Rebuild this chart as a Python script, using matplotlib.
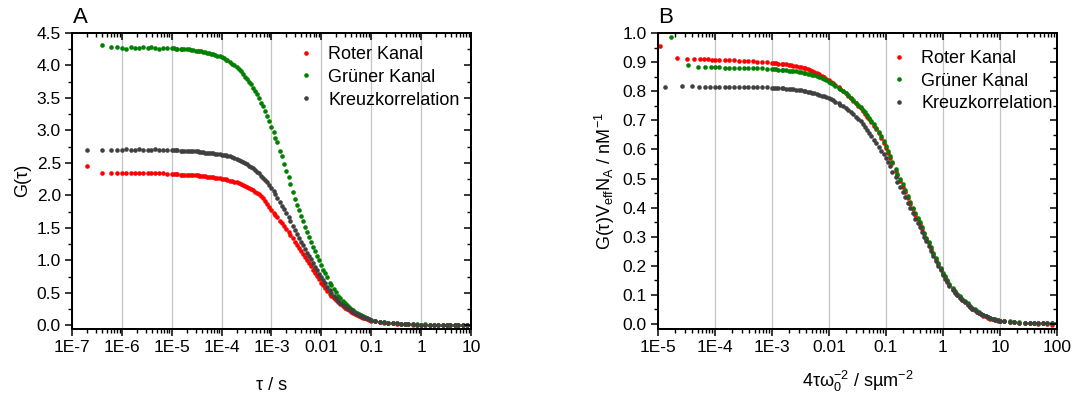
import matplotlib
matplotlib.use("Agg")
import matplotlib.pyplot as plt
from matplotlib.ticker import LogLocator, MultipleLocator, NullFormatter, FormatStrFormatter

plt.rcParams['font.family'] = ['Liberation Sans', 'DejaVu Sans']
plt.rcParams['mathtext.fontset'] = 'custom'
plt.rcParams['mathtext.rm'] = 'Liberation Sans'
plt.rcParams['mathtext.it'] = 'Liberation Sans:italic'
plt.rcParams['mathtext.default'] = 'regular'

RED = '#ff0000'
GREEN = '#008000'
GREY = '#404040'
LABELS = ['Roter Kanal', 'Grüner Kanal', 'Kreuzkorrelation']

# ---------------- panel A: G(tau) vs lag time tau / s ----------------
tau_a = [2e-7, 4e-7, 6e-7, 8e-7,
         1.0e-6, 1.2e-6, 1.5e-6, 1.8e-6, 2.2e-6, 2.7e-6, 3.3e-6, 3.9e-6, 4.7e-6, 5.6e-6, 6.8e-6, 8.2e-6,
         1.0e-5, 1.1e-5, 1.2e-5, 1.3e-5, 1.5e-5, 1.6e-5, 1.8e-5, 2.0e-5, 2.2e-5, 2.4e-5, 2.7e-5, 3.0e-5,
         3.3e-5, 3.6e-5, 3.9e-5, 4.3e-5, 4.7e-5, 5.1e-5, 5.6e-5, 6.2e-5, 6.8e-5, 7.5e-5, 8.2e-5, 9.1e-5,
         1.0e-4, 1.1e-4, 1.2e-4, 1.3e-4, 1.5e-4, 1.6e-4, 1.8e-4, 2.0e-4, 2.2e-4, 2.4e-4, 2.7e-4, 3.0e-4,
         3.3e-4, 3.6e-4, 3.9e-4, 4.3e-4, 4.7e-4, 5.1e-4, 5.6e-4, 6.2e-4, 6.8e-4, 7.5e-4, 8.2e-4, 9.1e-4,
         1.0e-3, 1.1e-3, 1.2e-3, 1.3e-3, 1.5e-3, 1.6e-3, 1.8e-3, 2.0e-3, 2.2e-3, 2.4e-3, 2.7e-3, 3.0e-3,
         3.3e-3, 3.6e-3, 3.9e-3, 4.3e-3, 4.7e-3, 5.1e-3, 5.6e-3, 6.2e-3, 6.8e-3, 7.5e-3, 8.2e-3, 9.1e-3,
         0.010, 0.011, 0.012, 0.013, 0.015, 0.016, 0.018, 0.020, 0.022, 0.024, 0.027, 0.030,
         0.033, 0.036, 0.039, 0.043, 0.047, 0.051, 0.056, 0.062, 0.068, 0.075, 0.082, 0.091,
         0.10, 0.12, 0.15, 0.18, 0.22, 0.27, 0.33, 0.39, 0.47, 0.56, 0.68, 0.82,
         1.0, 1.2, 1.5, 1.8, 2.2, 2.7, 3.3, 3.9, 4.7, 5.6, 6.8, 8.2,
         10.0]

g_red = [2.45, 2.35, 2.35, 2.34,
         2.35, 2.34, 2.35, 2.34, 2.35, 2.34, 2.34, 2.35, 2.34, 2.34, 2.34, 2.33,
         2.33, 2.33, 2.33, 2.33, 2.32, 2.32, 2.32, 2.32, 2.32, 2.31, 2.31, 2.31,
         2.31, 2.30, 2.30, 2.30, 2.30, 2.29, 2.29, 2.28, 2.28, 2.27, 2.27, 2.265,
         2.26, 2.255, 2.25, 2.24, 2.23, 2.22, 2.21, 2.20, 2.19, 2.175, 2.16, 2.145,
         2.13, 2.115, 2.10, 2.08, 2.06, 2.04, 2.02, 1.99, 1.96, 1.92, 1.87, 1.82,
         1.77, 1.735, 1.70, 1.665, 1.61, 1.57, 1.53, 1.485, 1.44, 1.39, 1.34, 1.29,
         1.24, 1.195, 1.15, 1.105, 1.06, 1.01, 0.96, 0.91, 0.86, 0.81, 0.76, 0.71,
         0.66, 0.62, 0.58, 0.535, 0.49, 0.455, 0.42, 0.39, 0.36, 0.33, 0.30, 0.275,
         0.25, 0.23, 0.21, 0.195, 0.18, 0.165, 0.15, 0.135, 0.12, 0.107, 0.095, 0.085,
         0.075, 0.062, 0.050, 0.042, 0.035, 0.030, 0.025, 0.021, 0.018, 0.015, 0.013, 0.011,
         0.008, 0.012, 0.010, 0.006, 0.011, 0.012, 0.008, 0.010, 0.006, 0.010, 0.012, 0.008,
         0.010]

# green channel has no visible point at the first lag time
g_green = [4.31, 4.28, 4.28,
           4.27, 4.26, 4.28, 4.27, 4.27, 4.28, 4.27, 4.28, 4.27, 4.26, 4.27, 4.27,
           4.27, 4.27, 4.26, 4.26, 4.26, 4.25, 4.25, 4.25, 4.25, 4.24, 4.24, 4.23,
           4.23, 4.22, 4.22, 4.21, 4.20, 4.19, 4.19, 4.18, 4.17, 4.16, 4.15, 4.14,
           4.13, 4.11, 4.09, 4.08, 4.05, 4.03, 4.00, 3.97, 3.94, 3.91, 3.87, 3.83,
           3.79, 3.75, 3.71, 3.66, 3.61, 3.56, 3.50, 3.43, 3.37, 3.30, 3.23, 3.14,
           3.05, 2.97, 2.89, 2.82, 2.68, 2.61, 2.49, 2.38, 2.28, 2.18, 2.06, 1.95,
           1.86, 1.77, 1.69, 1.60, 1.51, 1.44, 1.36, 1.29, 1.21, 1.14, 1.07, 1.00,
           0.93, 0.86, 0.80, 0.75, 0.66, 0.62, 0.56, 0.51, 0.46, 0.42, 0.38, 0.34,
           0.31, 0.28, 0.26, 0.23, 0.21, 0.19, 0.17, 0.155, 0.14, 0.125, 0.11, 0.10,
           0.090, 0.075, 0.060, 0.050, 0.040, 0.035, 0.030, 0.025, 0.020, 0.020, 0.015, 0.015,
           0.010, 0.015, 0.010, 0.012, 0.012, 0.008, 0.010, 0.014, 0.010, 0.008, 0.012, 0.012,
           0.010]

g_cross = [2.70, 2.70, 2.70, 2.70,
           2.70, 2.71, 2.70, 2.70, 2.71, 2.70, 2.70, 2.70, 2.71, 2.70, 2.70, 2.70,
           2.70, 2.70, 2.70, 2.70, 2.69, 2.69, 2.69, 2.69, 2.69, 2.68, 2.68, 2.68,
           2.68, 2.67, 2.67, 2.67, 2.66, 2.66, 2.66, 2.65, 2.65, 2.64, 2.64, 2.635,
           2.63, 2.625, 2.62, 2.61, 2.60, 2.59, 2.58, 2.565, 2.55, 2.535, 2.52, 2.50,
           2.48, 2.46, 2.44, 2.415, 2.39, 2.365, 2.34, 2.305, 2.27, 2.235, 2.20, 2.155,
           2.11, 2.065, 2.02, 1.96, 1.90, 1.845, 1.79, 1.73, 1.67, 1.60, 1.53, 1.465,
           1.40, 1.345, 1.29, 1.23, 1.17, 1.12, 1.07, 1.015, 0.96, 0.905, 0.85, 0.795,
           0.74, 0.695, 0.65, 0.595, 0.54, 0.50, 0.46, 0.42, 0.38, 0.35, 0.32, 0.295,
           0.27, 0.25, 0.23, 0.21, 0.19, 0.175, 0.16, 0.145, 0.13, 0.12, 0.11, 0.10,
           0.090, 0.075, 0.060, 0.050, 0.040, 0.035, 0.030, 0.025, 0.020, 0.018, 0.015, 0.013,
           0.010, 0.012, 0.008, 0.010, 0.012, 0.010, 0.008, 0.011, 0.012, 0.009, 0.010, 0.012,
           0.010]

# ---------------- panel B: normalised curves vs 4 tau / w0^2 ----------------
xb_grid = [1.0e-4, 1.2e-4, 1.5e-4, 1.8e-4, 2.2e-4, 2.7e-4, 3.3e-4, 3.9e-4, 4.7e-4, 5.6e-4, 6.8e-4, 8.2e-4,
           1.0e-3, 1.1e-3, 1.2e-3, 1.3e-3, 1.5e-3, 1.6e-3, 1.8e-3, 2.0e-3, 2.2e-3, 2.4e-3, 2.7e-3, 3.0e-3,
           3.3e-3, 3.6e-3, 3.9e-3, 4.3e-3, 4.7e-3, 5.1e-3, 5.6e-3, 6.2e-3, 6.8e-3, 7.5e-3, 8.2e-3, 9.1e-3,
           0.010, 0.011, 0.012, 0.013, 0.015, 0.016, 0.018, 0.020, 0.022, 0.024, 0.027, 0.030,
           0.033, 0.036, 0.039, 0.043, 0.047, 0.051, 0.056, 0.062, 0.068, 0.075, 0.082, 0.091,
           0.10, 0.11, 0.12, 0.13, 0.15, 0.16, 0.18, 0.20, 0.22, 0.24, 0.27, 0.30,
           0.33, 0.36, 0.39, 0.43, 0.47, 0.51, 0.56, 0.62, 0.68, 0.75, 0.82, 0.91,
           1.0, 1.1, 1.2, 1.3, 1.5, 1.6, 1.8, 2.0, 2.2, 2.4, 2.7, 3.0,
           3.3, 3.6, 3.9, 4.3, 4.7, 5.1, 5.6, 6.2, 6.8, 7.5, 8.2, 9.1,
           10, 12, 15, 18, 22, 27, 33, 39, 47, 56, 68, 82,
           100]
xb_red_head = [1.1e-5, 2.2e-5, 3.3e-5, 4.4e-5, 5.5e-5, 6.6e-5, 7.7e-5, 8.8e-5]
xb_green_head = [1.7e-5, 3.4e-5, 5.1e-5, 6.8e-5, 8.5e-5]
xb_cross_head = [1.35e-5, 2.7e-5, 4.05e-5, 5.4e-5, 6.75e-5, 8.1e-5]

yb_red = [0.955, 0.915, 0.912, 0.910, 0.910, 0.909, 0.909, 0.908,
          0.908, 0.907, 0.907, 0.906, 0.906, 0.905, 0.905, 0.904, 0.903, 0.902, 0.901, 0.899,
          0.897, 0.8965, 0.896, 0.895, 0.894, 0.893, 0.892, 0.890, 0.889, 0.888, 0.886, 0.884,
          0.882, 0.880, 0.878, 0.875, 0.872, 0.869, 0.866, 0.862, 0.858, 0.853, 0.848, 0.843,
          0.838, 0.833, 0.828, 0.823, 0.813, 0.808, 0.800, 0.793, 0.785, 0.777, 0.767, 0.758,
          0.750, 0.741, 0.733, 0.723, 0.713, 0.704, 0.694, 0.682, 0.670, 0.655, 0.640, 0.622,
          0.605, 0.588, 0.570, 0.553, 0.526, 0.511, 0.492, 0.472, 0.453, 0.434, 0.414, 0.395,
          0.376, 0.360, 0.345, 0.328, 0.310, 0.293, 0.277, 0.259, 0.241, 0.223, 0.206, 0.189,
          0.172, 0.160, 0.148, 0.134, 0.120, 0.110, 0.100, 0.092, 0.084, 0.076, 0.068, 0.060,
          0.053, 0.047, 0.042, 0.037, 0.033, 0.029, 0.026, 0.022, 0.019, 0.016, 0.014, 0.012,
          0.011, 0.009, 0.007, 0.006, 0.004, 0.004, 0.003, 0.003, 0.001, 0.002, 0.000, -0.002,
          0.002]

yb_green = [0.985, 0.890, 0.884, 0.883, 0.882,
            0.882, 0.882, 0.881, 0.881, 0.880, 0.880, 0.880, 0.879, 0.879, 0.878, 0.878, 0.877,
            0.876, 0.8755, 0.875, 0.8745, 0.874, 0.873, 0.872, 0.871, 0.870, 0.869, 0.868, 0.866,
            0.865, 0.863, 0.862, 0.860, 0.858, 0.856, 0.854, 0.851, 0.848, 0.845, 0.841, 0.837,
            0.833, 0.829, 0.825, 0.819, 0.812, 0.806, 0.800, 0.793, 0.786, 0.778, 0.769, 0.760,
            0.752, 0.744, 0.736, 0.727, 0.717, 0.708, 0.698, 0.687, 0.675, 0.661, 0.646, 0.629,
            0.612, 0.595, 0.578, 0.556, 0.534, 0.517, 0.499, 0.480, 0.460, 0.440, 0.420, 0.400,
            0.381, 0.365, 0.350, 0.332, 0.314, 0.297, 0.281, 0.263, 0.245, 0.227, 0.210, 0.193,
            0.176, 0.164, 0.152, 0.138, 0.124, 0.114, 0.104, 0.095, 0.087, 0.079, 0.071, 0.063,
            0.056, 0.050, 0.045, 0.040, 0.035, 0.031, 0.028, 0.024, 0.021, 0.018, 0.016, 0.014,
            0.012, 0.010, 0.009, 0.007, 0.006, 0.005, 0.005, 0.004, 0.004, 0.003, 0.004, 0.003,
            0.003]

yb_cross = [0.815, 0.817, 0.817, 0.816, 0.816, 0.816,
            0.816, 0.816, 0.816, 0.816, 0.815, 0.815, 0.815, 0.815, 0.814, 0.814, 0.813, 0.813,
            0.812, 0.8115, 0.811, 0.8105, 0.810, 0.8095, 0.809, 0.808, 0.807, 0.806, 0.805, 0.804,
            0.803, 0.8015, 0.800, 0.7985, 0.797, 0.795, 0.793, 0.7905, 0.788, 0.785, 0.782, 0.779,
            0.776, 0.773, 0.769, 0.764, 0.759, 0.754, 0.749, 0.742, 0.736, 0.728, 0.721, 0.713,
            0.705, 0.696, 0.688, 0.677, 0.667, 0.656, 0.646, 0.633, 0.621, 0.608, 0.596, 0.584,
            0.572, 0.557, 0.543, 0.524, 0.505, 0.488, 0.472, 0.453, 0.435, 0.416, 0.398, 0.380,
            0.362, 0.347, 0.333, 0.316, 0.300, 0.284, 0.268, 0.251, 0.234, 0.217, 0.201, 0.184,
            0.168, 0.156, 0.145, 0.131, 0.118, 0.108, 0.099, 0.091, 0.083, 0.075, 0.067, 0.060,
            0.053, 0.048, 0.043, 0.038, 0.034, 0.030, 0.027, 0.023, 0.020, 0.017, 0.015, 0.013,
            0.011, 0.009, 0.008, 0.006, 0.005, 0.004, 0.004, 0.003, 0.003, 0.002, 0.003, 0.002,
            0.003]

xticks_a = [1e-7, 1e-6, 1e-5, 1e-4, 1e-3, 1e-2, 1e-1, 1, 10]
xlabels_a = ['1E-7', '1E-6', '1E-5', '1E-4', '1E-3', '0.01', '0.1', '1', '10']
xticks_b = [1e-5, 1e-4, 1e-3, 1e-2, 1e-1, 1, 10, 100]
xlabels_b = ['1E-5', '1E-4', '1E-3', '0.01', '0.1', '1', '10', '100']


def style_axes(ax, xlim, ylim, xticks, xlabels, ymajor, yminor):
    ax.set_xscale('log')
    ax.set_xlim(*xlim)
    ax.set_ylim(*ylim)
    ax.set_xticks(xticks, labels=xlabels)
    ax.xaxis.set_minor_locator(LogLocator(base=10, subs=range(2, 10), numticks=30))
    ax.xaxis.set_minor_formatter(NullFormatter())
    ax.yaxis.set_major_locator(MultipleLocator(ymajor))
    ax.yaxis.set_minor_locator(MultipleLocator(yminor))
    ax.yaxis.set_major_formatter(FormatStrFormatter('%.1f'))
    ax.tick_params(which='major', direction='out', length=5, width=1.1, labelsize=12.5, pad=3)
    ax.tick_params(which='minor', direction='out', length=3, width=1.0)
    ax.grid(axis='x', which='major', color='#c4c4c4', lw=0.9)
    for sp in ax.spines.values():
        sp.set_linewidth(1.3)

    # top and right axes get inward ticks without labels
    axt = ax.twiny()
    axt.set_xscale('log')
    axt.set_xlim(*xlim)
    axt.set_xticks(xticks)
    axt.xaxis.set_minor_locator(LogLocator(base=10, subs=range(2, 10), numticks=30))
    axt.tick_params(which='major', direction='in', length=5, width=1.1, labeltop=False)
    axt.tick_params(which='minor', direction='in', length=3, width=1.0, labeltop=False)
    axr = ax.twinx()
    axr.set_ylim(*ylim)
    axr.yaxis.set_major_locator(MultipleLocator(ymajor))
    axr.yaxis.set_minor_locator(MultipleLocator(yminor))
    axr.tick_params(which='major', direction='in', length=5, width=1.1, labelright=False)
    axr.tick_params(which='minor', direction='in', length=3, width=1.0, labelright=False)
    for a in (axt, axr):
        for sp in a.spines.values():
            sp.set_linewidth(1.3)


def add_legend(ax, x0, y0):
    ax.legend(loc='upper left', bbox_to_anchor=(x0, y0), frameon=False, fontsize=13,
              handlelength=1.0, handletextpad=0.72, labelspacing=0.32,
              borderpad=0, borderaxespad=0, numpoints=1)


if __name__ == "__main__":
    fig = plt.figure(figsize=(10.78, 3.96), dpi=100)

    ax_a = fig.add_axes([0.0668, 0.170, 0.370, 0.7467])
    dot = dict(ls='none', marker='o', ms=3.3, mec='none')
    ax_a.plot(tau_a, g_red, color=RED, label=LABELS[0], **dot)
    ax_a.plot(tau_a[1:], g_green, color=GREEN, label=LABELS[1], **dot)
    ax_a.plot(tau_a, g_cross, color=GREY, label=LABELS[2], **dot)
    ax_a.set_xlabel('τ / s', fontsize=13, labelpad=16)
    ax_a.set_ylabel('G(τ)', fontsize=13, labelpad=4)
    add_legend(ax_a, 0.564, 0.956)
    ax_a.text(0.002, 1.034, 'A', transform=ax_a.transAxes, fontsize=16, ha='left', va='baseline')
    style_axes(ax_a, (1e-7, 10), (-0.05, 4.5), xticks_a, xlabels_a, 0.5, 0.25)

    ax_b = fig.add_axes([0.6101, 0.1692, 0.3704, 0.7475])
    ax_b.plot(xb_red_head + xb_grid, yb_red, color=RED, label=LABELS[0], **dot)
    ax_b.plot(xb_green_head + xb_grid, yb_green, color=GREEN, label=LABELS[1], **dot)
    ax_b.plot(xb_cross_head + xb_grid, yb_cross, color=GREY, label=LABELS[2], **dot)
    ax_b.set_xlabel('4τω$_0^{-2}$ / sµm$^{-2}$', fontsize=13, labelpad=10)
    ax_b.set_ylabel('G(τ)V$_{eff}$N$_A$ / nM$^{-1}$', fontsize=13, labelpad=4)
    add_legend(ax_b, 0.582, 0.943)
    ax_b.text(0.002, 1.034, 'B', transform=ax_b.transAxes, fontsize=16, ha='left', va='baseline')
    style_axes(ax_b, (1e-5, 100), (-0.017, 1.0), xticks_b, xlabels_b, 0.1, 0.05)

    fig.savefig('out.png', dpi=100)
